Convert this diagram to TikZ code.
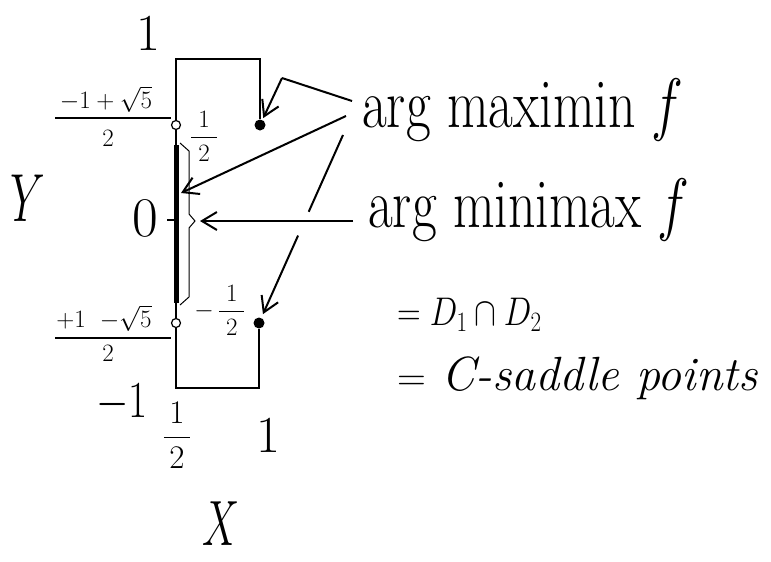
\RequirePackage{fix-cm}
\documentclass[tikz,border=0pt]{standalone}
\usepackage{amsmath}
\usetikzlibrary{arrows.meta, positioning}
\newcommand{\narrow}[2][0.8]{\scalebox{#1}[1]{#2}}
\newcommand{\fs}[1]{\fontsize{#1}{#1}\selectfont}

\begin{document}
\begin{tikzpicture}[x=1pt, y=-1pt,
  edge/.style={line width=1.4pt},
  pick/.style={line width=2pt, -{Straight Barb[length=15pt,width=18pt]}},
  odot/.style={circle, draw, line width=1.2pt, fill=white, inner sep=0pt, minimum size=9pt},
  fdot/.style={circle, fill, inner sep=0pt, minimum size=11pt},
  lbl/.style={inner sep=0pt}]
  \useasboundingbox (0,0) rectangle (771,562);

  % end points on the two edges
  \node[odot] (hi) at (176,125) {};
  \node[odot] (lo) at (176,323) {};
  \node[fdot] (p1) at (260,125) {};
  \node[fdot] (p2) at (259,323) {};

  \coordinate (tl) at (176,59);
  \coordinate (tr) at (260,59);
  \coordinate (bl) at (176,388);
  \coordinate (br) at (259,388);
  \coordinate (s1) at (176,145);
  \coordinate (s2) at (176,303);

  \draw[edge] (hi) -- (tl) -- (tr) -- (p1);
  \draw[edge] (lo) -- (bl) -- (br) -- (p2);
  \draw[edge] (hi) -- (lo);
  \draw[line width=5pt] (s1) -- (s2);

  % brace
  \coordinate (btip) at (195,221);
  \draw[line width=1pt] (180,143) -- (189,151) -- (189,214) -- (btip) -- (189,228) -- (189,297) -- (180,305);
  \coordinate (tick) at (167,220);
  \draw[edge] (tick) -- (tick -| s1);

  % axis labels
  \node[lbl, font=\fs{52}] (one) at (148,33) {1};
  \node[lbl, font=\fs{56}] (zero) at (145,218) {0};
  \node[lbl, font=\fs{52}] (mone) at (122,403) {\narrow{$-1$}};
  \node[lbl, font=\fs{33}] (half) at (177,435) {$\dfrac{\,1\,}{\,2\,}$};
  \node[lbl, font=\fs{52}] (xone) at (268,435) {1};
  \node[lbl, font=\fs{68}] (ylab) at (28,198) {\narrow[0.65]{$Y$}};
  \node[lbl, font=\fs{64}] (xlab) at (221,524) {\narrow[0.65]{$X$}};

  % fractions at the open ends
  \node[lbl, font=\fs{25}] (num1) at (106,99) {$-1+\sqrt{5}$};
  \node[lbl, font=\fs{25}] (den1) at (108,138) {2};
  \draw[edge] (55,118) -- (171,118);
  \node[lbl, font=\fs{25}] (num2) at (104,318) {$+1\;\;{-}\sqrt{5}$};
  \node[lbl, font=\fs{25}] (den2) at (108,353) {2};
  \draw[edge] (55,338) -- (171,338);
  \node[lbl, font=\fs{25}] (hhi) at (204,136) {$\dfrac{\;1\;}{\;2\;}$};
  \node[lbl, font=\fs{25}] (hlo) at (220,310) {$-\,\dfrac{\;1\;}{\;2\;}$};

  % texts on the right
  \node[lbl, anchor=base west, font=\fs{70}] (maxi) at (362,127) {\narrow[0.77]{arg maximin $f$}};
  \node[lbl, anchor=base west, font=\fs{70}] (mini) at (368,227) {\narrow[0.77]{arg minimax $f$}};
  \node[lbl, anchor=base west, font=\fs{40}] (dd) at (397,325) {\narrow[0.82]{$=D_1\cap D_2$}};
  \node[lbl, anchor=base west] (sad) at (397,390) {\fs{40}$=$\hspace{0.4em}\fs{48}\itshape C-saddle points};

  % arrows
  \coordinate (a1) at (352,101);
  \coordinate (a2) at (346,116);
  \coordinate (a3) at (343,135);
  \coordinate (k) at (282,78);
  \coordinate (t1) at (181,193);
  \coordinate (b1) at (353,221);
  \draw[line width=2pt] (a1) -- (k);
  \draw[pick, shorten >=2pt] (k) -- (p1);
  \draw[pick] (a2) -- (t1);
  \path (a3) -- coordinate[pos=0.42] (g1) coordinate[pos=0.55] (g2) (p2);
  \draw[line width=2pt] (a3) -- (g1);
  \draw[pick, shorten >=4pt] (g2) -- (p2);
  \draw[pick, shorten >=5pt] (b1) -- (btip);
\end{tikzpicture}
\end{document}
